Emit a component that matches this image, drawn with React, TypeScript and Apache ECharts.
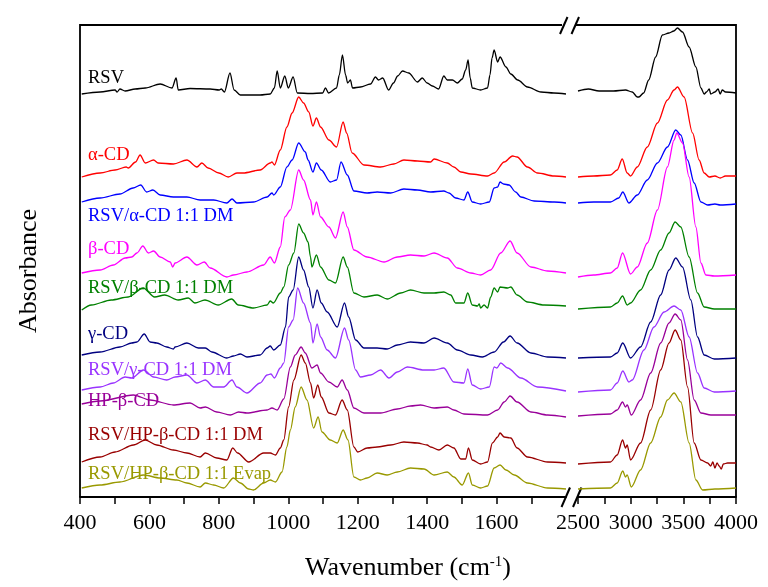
import React, { useEffect, useRef } from 'react';
import * as echarts from 'echarts';

const FONT = '"Liberation Serif", "Times New Roman", Times, serif';

// Axis ticks / labels (wavenumber, cm^-1)
const xTickStepLeft = 100;
const xLabelsLeft = [400, 600, 800, 1000, 1200, 1400, 1600];
const xTickStepRight = 250;
const xLabelsRight = [2500, 3000, 3500, 4000];

const seriesNames = [
  'RSV',
  'α-CD',
  'RSV/α-CD 1:1 DM',
  'β-CD',
  'RSV/β-CD 1:1 DM',
  'γ-CD',
  'RSV/γ-CD 1:1 DM',
  'HP-β-CD',
  'RSV/HP-β-CD 1:1 DM',
  'RSV/HP-β-CD 1:1 Evap',
];

// Spectra: [wavenumber, absorbance (stacked, arbitrary units)]
const rsvL = [[405,403],[458,405],[501,407],[507,405],[515,408],[530,406],[559,408],[588,409],[631,413],[665,409],[677,419],[683,407],[717,408.5],[775,408],[801,407],[807,408],[816,405],[832,424],[844,407],[862,402],[919,402],[948,403],[960,409],[968,426],[977,409],[990,421],[1000,409],[1014,420],[1026,404],[1064,403.5],[1099,404],[1107,409],[1116,404],[1139,409],[1147,422],[1156,442],[1165,422],[1171,414],[1179,417],[1185,409],[1208,410],[1237,413],[1251,420],[1260,417],[1272,419],[1289,407],[1303,414],[1315,421],[1329,426],[1347,424],[1372,415],[1386,419],[1400,414],[1415,411],[1433,408],[1448,421],[1458,417],[1473,417],[1487,414],[1501,418],[1511,427],[1518,437],[1524,419],[1530,409],[1554,407],[1574,409],[1581,422],[1587,439],[1593,447],[1603,435],[1610,440],[1627,430],[1641,423],[1661,417],[1689,410],[1728,405],[1765,404],[1800,403]];
const rsvR = [[2500,406],[2598,408],[2700,406],[2837,406],[2951,407],[3015,405],[3063,400],[3078,400],[3123,404],[3171,417],[3237,440],[3301,462],[3364,464],[3410,466],[3444,469],[3492,465],[3555,450],[3619,430],[3667,409],[3698,403],[3720,405],[3746,408],[3760,403],[3800,405],[3830,408],[3850,403],[3870,407],[3900,405],[4000,404]];

const aCdL = [[405,320],[458,324],[501,327],[533,330],[539,329],[560,335],[573,342],[588,334],[612,337],[625,334],[669,333],[708,337],[737,330],[751,334],[769,329],[800,324],[827,320],[852,324],[870,324],[919,327],[948,334],[953,335],[960,332],[977,347],[996,370],[1011,384],[1030,400],[1044,394],[1059,385],[1071,371],[1081,379],[1093,370],[1117,357],[1139,350],[1158,375],[1168,364],[1184,344],[1218,332],[1266,330],[1304,333],[1333,337],[1372,336],[1410,335],[1420,338],[1458,334],[1477,330],[1497,325],[1526,323],[1574,321],[1593,324],[1622,335],[1646,341],[1659,340],[1689,330],[1718,324],[1766,321],[1800,320]];
const aCdR = [[2500,320],[2650,321],[2808,322],[2872,327],[2920,338],[2967,324],[2999,321],[3063,330],[3158,350],[3254,374],[3349,397],[3412,407],[3444,410],[3507,400],[3588,364],[3650,337],[3698,324],[3746,320],[3800,321],[3850,319],[3900,321],[4000,321]];

const rsvACdL = [[405,295],[458,299],[515,303],[553,309],[575,312],[592,305],[610,307],[631,302],[669,300],[708,300],[746,297],[785,297],[823,294],[838,298],[852,294],[900,295],[939,300],[953,304],[958,302],[977,310],[996,330],[1011,337],[1030,354],[1049,345],[1057,337],[1071,325],[1081,334],[1095,327],[1121,315],[1139,317],[1152,335],[1170,322],[1189,306],[1227,304],[1256,305],[1295,304],[1333,308],[1372,307],[1410,305],[1448,306],[1463,304],[1482,299],[1506,297],[1517,305],[1530,295],[1554,293],[1579,295],[1593,309],[1603,310],[1610,315],[1620,313],[1636,312],[1655,305],[1670,300],[1708,296],[1766,295],[1800,294]];
const rsvACdR = [[2500,294],[2650,295],[2808,295],[2887,299],[2925,305],[2983,294],[3063,302],[3158,317],[3254,334],[3349,350],[3428,367],[3476,362],[3540,337],[3603,314],[3667,295],[3731,292],[3800,293],[3850,292],[4000,293]];

const bCdL = [[405,224],[458,227],[496,232],[530,239],[549,240],[564,244],[581,251],[597,244],[612,246],[631,240],[660,235],[667,230],[674,234],[708,240],[737,232],[758,235],[775,229],[823,220],[842,222],[881,225],[929,232],[948,240],[960,234],[977,250],[990,280],[1006,287],[1030,327],[1044,317],[1064,297],[1071,282],[1081,295],[1093,280],[1117,270],[1136,259],[1158,285],[1170,270],[1189,247],[1227,240],[1276,235],[1314,240],[1352,242],[1391,241],[1420,244],[1458,239],[1487,229],[1526,224],[1554,222],[1583,227],[1612,244],[1639,256],[1659,244],[1699,230],[1747,226],[1800,224]];
const bCdR = [[2500,220],[2649,222],[2808,224],[2872,229],[2923,244],[2999,223],[3063,230],[3158,254],[3254,287],[3349,330],[3412,357],[3438,364],[3492,354],[3555,320],[3619,270],[3667,234],[3714,222],[3794,221],[4000,222]];

const rsvBCdL = [[405,187],[433,192],[490,197],[539,200],[582,209],[615,200],[644,202],[683,197],[712,199],[731,194],[760,197],[798,192],[837,198],[856,192],[900,189],[939,192],[948,196],[957,194],[977,204],[987,210],[1001,232],[1016,244],[1030,273],[1044,264],[1057,255],[1064,240],[1068,230],[1081,242],[1093,230],[1117,217],[1136,214],[1158,240],[1170,230],[1189,204],[1218,200],[1256,202],[1285,198],[1324,204],[1352,207],[1391,204],[1420,204],[1448,205],[1468,202],[1482,194],[1506,194],[1517,204],[1530,192],[1545,191],[1550,193],[1554,189],[1564,192],[1574,189],[1583,200],[1593,209],[1603,205],[1610,210],[1632,209],[1641,210],[1659,202],[1689,195],[1737,192],[1800,191]];
const rsvBCdR = [[2500,188],[2808,190],[2872,194],[2923,201],[2967,192],[2999,194],[3094,207],[3190,227],[3285,247],[3364,264],[3422,275],[3476,270],[3555,240],[3635,204],[3698,190],[3794,188],[4000,188]];

const gCdL = [[405,142],[458,145],[515,150],[549,154],[564,155],[585,163],[602,155],[621,154],[650,150],[669,148],[674,150],[708,154],[741,149],[761,149],[780,145],[823,139],[842,141],[862,143],[881,140],[919,142],[939,149],[948,151],[958,147],[977,152],[992,170],[1001,200],[1014,207],[1030,240],[1044,227],[1059,210],[1071,189],[1083,207],[1095,194],[1112,185],[1141,170],[1162,194],[1174,180],[1194,157],[1218,149],[1256,149],[1285,148],[1314,152],[1352,155],[1391,154],[1420,159],[1458,154],[1487,147],[1526,142],[1559,140],[1593,145],[1620,155],[1639,161],[1659,154],[1699,144],[1747,140],[1800,139]];
const gCdR = [[2500,139],[2808,140],[2872,144],[2925,154],[2999,139],[3094,150],[3190,175],[3285,202],[3364,227],[3428,239],[3492,230],[3571,197],[3635,160],[3698,142],[3794,138],[4000,139]];

const rsvGCdL = [[405,107],[458,110],[496,114],[530,120],[549,119],[583,127],[612,120],[650,117],[674,120],[708,122],[737,114],[761,117],[785,110],[814,110],[838,117],[852,110],[881,104],[919,114],[939,122],[950,123],[960,119],[977,129],[987,134],[1001,170],[1014,177],[1027,209],[1044,194],[1064,174],[1071,154],[1083,173],[1093,160],[1112,147],[1136,139],[1162,169],[1174,157],[1194,127],[1208,120],[1237,122],[1266,127],[1290,119],[1314,125],[1343,130],[1391,127],[1420,127],[1448,129],[1477,115],[1506,114],[1517,128],[1530,112],[1554,108],[1579,110],[1593,130],[1601,129],[1612,134],[1632,129],[1670,119],[1718,110],[1800,106]];
const rsvGCdR = [[2500,105],[2808,107],[2872,114],[2925,126],[2983,115],[3015,117],[3126,147],[3221,170],[3317,185],[3412,191],[3476,187],[3555,160],[3635,124],[3698,109],[3794,105],[4000,106]];

const hpL = [[405,93],[458,96],[554,102],[602,97],[669,92],[717,94],[746,89],[761,90],[794,85],[833,82],[857,85],[881,84],[939,87],[953,89],[968,87],[987,98],[1006,130],[1020,142],[1037,150],[1049,144],[1068,129],[1083,132],[1093,124],[1117,115],[1141,110],[1155,117],[1170,107],[1189,89],[1218,84],[1266,84],[1314,88],[1352,91],[1381,92],[1420,89],[1458,90],[1477,87],[1506,83],[1574,82],[1603,87],[1622,95],[1639,101],[1659,95],[1699,85],[1747,82],[1800,80]];
const hpR = [[2500,81],[2808,83],[2872,87],[2923,95],[2951,90],[2967,92],[3006,82],[3094,97],[3190,124],[3285,154],[3364,174],[3422,183],[3476,177],[3540,137],[3603,97],[3667,84],[3762,82],[4000,82]];

const rsvHpDmL = [[405,35],[458,40],[501,45],[554,52],[588,57],[621,52],[669,47],[708,44],[746,40],[761,44],[794,39],[823,37],[840,49],[854,44],[886,35],[929,44],[948,44],[963,42],[977,49],[987,57],[1001,90],[1016,117],[1037,142],[1049,134],[1064,114],[1073,99],[1085,112],[1095,100],[1117,84],[1136,82],[1155,97],[1170,87],[1189,50],[1200,45],[1227,49],[1256,50],[1295,52],[1333,55],[1372,54],[1400,52],[1410,50],[1434,47],[1458,52],[1477,49],[1497,38],[1511,38],[1519,49],[1530,37],[1554,33],[1574,35],[1588,54],[1603,60],[1610,64],[1622,60],[1641,59],[1659,49],[1689,40],[1747,35],[1800,34]];
const rsvHpDmR = [[2500,33],[2808,35],[2872,42],[2923,57],[2951,49],[2967,52],[2999,37],[3094,54],[3190,87],[3285,127],[3364,154],[3422,167],[3476,157],[3540,110],[3603,54],[3667,37],[3731,34],[3760,31],[3780,35],[3800,29],[3820,34],[3840,31],[3860,28],[3880,33],[3920,34],[4000,34]];

const rsvHpEvL = [[405,9],[458,12],[515,15],[583,22],[631,19],[679,17],[708,14],[746,10],[761,14],[785,12],[814,9],[842,19],[862,14],[886,8],[900,7],[929,14],[948,17],[963,15],[982,25],[996,50],[1006,67],[1020,90],[1037,110],[1054,97],[1073,69],[1086,80],[1097,65],[1121,57],[1141,54],[1158,67],[1172,57],[1189,20],[1208,17],[1227,19],[1256,24],[1285,22],[1314,25],[1352,29],[1391,28],[1420,22],[1458,25],[1477,20],[1501,12],[1519,24],[1530,12],[1554,9],[1574,11],[1593,29],[1610,32],[1627,27],[1651,22],[1689,14],[1747,9],[1800,8]];
const rsvHpEvR = [[2500,8],[2808,9],[2872,14],[2925,26],[2951,20],[2967,22],[3006,10],[3094,27],[3190,54],[3285,80],[3349,97],[3412,104],[3476,95],[3555,54],[3619,17],[3683,7],[3800,8],[4000,9]];

const spectraLeft = [rsvL, aCdL, rsvACdL, bCdL, rsvBCdL, gCdL, rsvGCdL, hpL, rsvHpDmL, rsvHpEvL];
const spectraRight = [rsvR, aCdR, rsvACdR, bCdR, rsvBCdR, gCdR, rsvGCdR, hpR, rsvHpDmR, rsvHpEvR];

// Styling / layout (not data)
const COLORS = ['#000000', '#FF0000', '#0000FF', '#FF00FF', '#008000', '#000080', '#9933FF', '#990099', '#990000', '#999900'];
const LABEL_Y = [77, 154, 215, 248, 287, 333, 369, 400, 434, 473];

const FRAME = { left: 80, top: 25, right: 736, bottom: 497 };
const BREAK_L = 566;
const BREAK_R = 578;

export default function App() {
  const ref = useRef<HTMLDivElement>(null);

  useEffect(() => {
    if (!ref.current) return;
    const chart = echarts.init(ref.current, null, { renderer: 'svg' });

    const series: any[] = [];
    seriesNames.forEach((name, i) => {
      [spectraLeft[i], spectraRight[i]].forEach((data, k) => {
        series.push({
          type: 'line',
          name,
          xAxisIndex: k,
          yAxisIndex: k,
          data,
          showSymbol: false,
          symbol: 'none',
          smooth: 0.3,
          smoothMonotone: 'x',
          silent: true,
          lineStyle: { color: COLORS[i], width: 1.3 },
        });
      });
    });

    const lineStyle = { stroke: '#000', lineWidth: 1.8 };

    const graphic: any[] = [
      { type: 'polyline', silent: true, shape: { points: [[562, FRAME.top], [FRAME.left, FRAME.top], [FRAME.left, FRAME.bottom]] }, style: { ...lineStyle, fill: null } },
      { type: 'polyline', silent: true, shape: { points: [[576, FRAME.top], [FRAME.right, FRAME.top], [FRAME.right, FRAME.bottom]] }, style: { ...lineStyle, fill: null } },
      { type: 'line', silent: true, shape: { x1: 560, y1: 34, x2: 567.5, y2: 17 }, style: { stroke: '#000', lineWidth: 2 } },
      { type: 'line', silent: true, shape: { x1: 571.5, y1: 34, x2: 579, y2: 17 }, style: { stroke: '#000', lineWidth: 2 } },
      { type: 'line', silent: true, shape: { x1: 561.5, y1: 507, x2: 570, y2: 487.5 }, style: { stroke: '#000', lineWidth: 2 } },
      { type: 'line', silent: true, shape: { x1: 573, y1: 507, x2: 581.5, y2: 487.5 }, style: { stroke: '#000', lineWidth: 2 } },
      {
        type: 'text', silent: true, x: 27, y: 271, rotation: Math.PI / 2,
        style: { text: 'Absorbance', fontFamily: FONT, fontSize: 26, fill: '#000', align: 'center', verticalAlign: 'middle' },
      },
      {
        type: 'text', silent: true, x: 408, y: 566,
        style: {
          text: '{a|Wavenumber (cm}{s|-1}{a|)}',
          align: 'center', verticalAlign: 'middle',
          rich: {
            a: { fontFamily: FONT, fontSize: 26, fill: '#000', verticalAlign: 'bottom' },
            s: { fontFamily: FONT, fontSize: 15, fill: '#000', verticalAlign: 'top' },
          },
        },
      },
    ];
    seriesNames.forEach((name, i) => {
      graphic.push({
        type: 'text', silent: true, x: 88, y: LABEL_Y[i],
        style: { text: name, fontFamily: FONT, fontSize: 18.5, fill: COLORS[i], align: 'left', verticalAlign: 'middle' },
      });
    });

    const base: any = {
      type: 'value',
      axisLine: { show: true, onZero: false, lineStyle: { color: '#000', width: 1.8 } },
      splitLine: { show: false },
      axisTick: { show: true, inside: false, length: 7, lineStyle: { color: '#000', width: 1.5 } },
      minorTick: { show: false },
    };

    chart.setOption({
      animation: false,
      grid: [
        { left: FRAME.left, top: FRAME.top, width: BREAK_L - FRAME.left, height: FRAME.bottom - FRAME.top },
        { left: BREAK_R, top: FRAME.top, width: FRAME.right - BREAK_R, height: FRAME.bottom - FRAME.top },
      ],
      xAxis: [
        {
          ...base, gridIndex: 0, min: 400, max: 1800, interval: xTickStepLeft,
          axisLabel: {
            fontFamily: FONT, fontSize: 22, color: '#000', margin: 13, showMaxLabel: false,
            formatter: (v: number) => (xLabelsLeft.indexOf(v) >= 0 ? String(v) : ''),
          },
        },
        {
          ...base, gridIndex: 1, min: 2500, max: 4000, interval: xTickStepRight,
          axisLabel: {
            fontFamily: FONT, fontSize: 22, color: '#000', margin: 13,
            formatter: (v: number) => (xLabelsRight.indexOf(v) >= 0 ? String(v) : ''),
          },
        },
      ],
      yAxis: [
        { type: 'value', gridIndex: 0, min: 0, max: 472, show: false },
        { type: 'value', gridIndex: 1, min: 0, max: 472, show: false },
      ],
      series,
      graphic,
    });

    return () => chart.dispose();
  }, []);

  return <div ref={ref} style={{ position: 'fixed', left: 0, top: 0, width: 768, height: 587 }} />;
}
